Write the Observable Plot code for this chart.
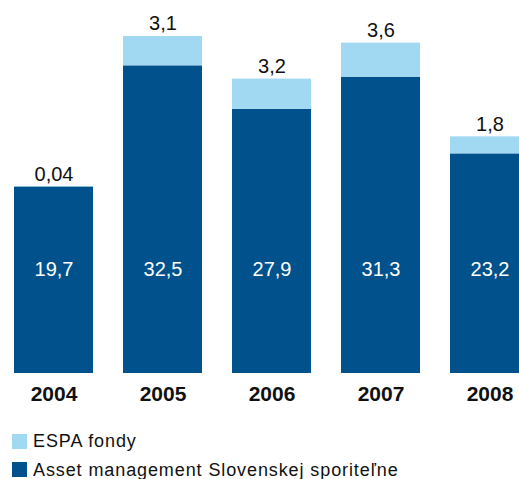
<!DOCTYPE html>
<html>
<head>
<meta charset="utf-8">
<script src="https://cdn.jsdelivr.net/npm/d3@7"></script>
<script src="https://cdn.jsdelivr.net/npm/@observablehq/plot@0.6"></script>
<style>
  html, body { margin: 0; padding: 0; background: #fff; overflow: hidden; }
  #chart { width: 519px; font-family: "Liberation Sans", Arial, sans-serif; }
  #legend { padding-left: 12px; margin-top: 16px; }
  #legend div { font-family: "Liberation Sans", Arial, sans-serif !important; font-size: 18px !important; letter-spacing: 0.9px; color: #111; line-height: 20px; }
  #legend div[class$="-swatch"] { padding-bottom: 8.7px !important; margin: 0 !important; }
  #legend svg { margin-right: 6px !important; }
</style>
</head>
<body>
<div id="chart"></div>
<div id="legend"></div>
<script>
const years = ["2004", "2005", "2006", "2007", "2008"];
const assetValues = [19.7, 32.5, 27.9, 31.3, 23.2];
const espaValues = [0.04, 3.1, 3.2, 3.6, 1.8];
const seriesNames = ["ESPA fondy", "Asset management Slovenskej sporiteľne"];
const seriesColors = ["#a2d9f2", "#01528c"];

const fmt = v => String(v).replace(".", ",");

const rows = [];
years.forEach((y, i) => rows.push({year: y, series: seriesNames[1], value: assetValues[i]}));
years.forEach((y, i) => rows.push({year: y, series: seriesNames[0], value: espaValues[i]}));
const totals = years.map((y, i) => ({year: y, asset: assetValues[i], espa: espaValues[i]}));

const plot = Plot.plot({
  width: 519,
  height: 415,
  marginLeft: 0,
  marginRight: 0,
  marginTop: 0,
  marginBottom: 42,
  style: {fontFamily: "'Liberation Sans', Arial, sans-serif", background: "white"},
  x: {domain: years, range: [-2.25, 545.25], paddingInner: 0.2785, paddingOuter: 0.1393, label: null},
  y: {domain: [0, 39.4], axis: null},
  color: {domain: seriesNames, range: seriesColors},
  marks: [
    Plot.barY(rows, {x: "year", y: "value", fill: "series", order: null}),
    Plot.text(totals, {x: "year", y: d => d.asset + d.espa, text: d => fmt(d.espa), lineAnchor: "bottom", dy: -6, fontSize: 20, fill: "#111"}),
    Plot.text(totals, {x: "year", text: d => fmt(d.asset), frameAnchor: "bottom", dy: -98, fontSize: 20, fill: "white"}),
    Plot.axisX({tickSize: 0, tickPadding: 13, fontSize: 21, fontWeight: "bold", fill: "#111", label: null})
  ]
});
document.getElementById("chart").appendChild(plot);

const legend = Plot.legend({
  color: {domain: seriesNames, range: seriesColors},
  legend: "swatches",
  columns: 1,
  swatchSize: 15
});
document.getElementById("legend").appendChild(legend);
</script>
</body>
</html>
